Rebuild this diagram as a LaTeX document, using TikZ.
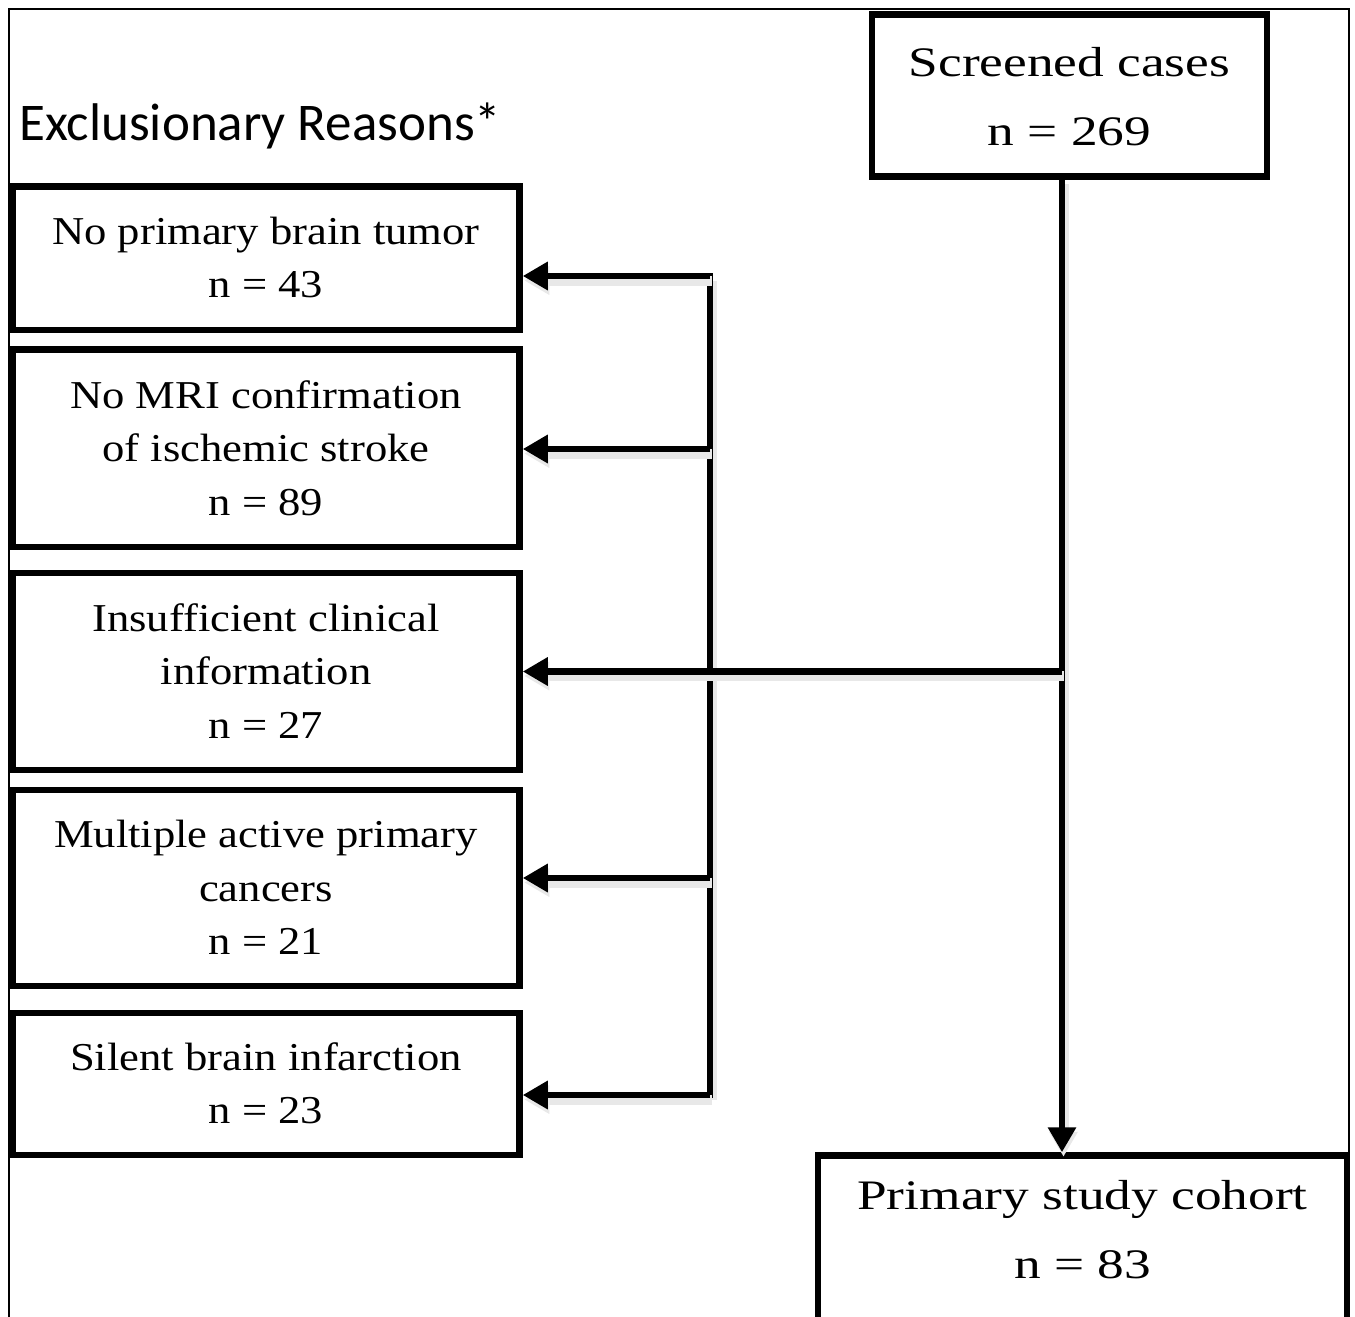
\documentclass[tikz,border=0pt]{standalone}
\usepackage{fontspec}
\usetikzlibrary{arrows.meta}
\newfontfamily\bigserif[FakeStretch=1.27]{Liberation Serif}
\newfontfamily\smallserif[FakeStretch=1.13]{Liberation Serif}
\newfontfamily\sansf{Carlito}
\begin{document}
\begin{tikzpicture}[x=1pt,y=-1pt,
  box/.style={draw, line width=6.5pt, minimum width=507pt, inner sep=0pt},
  arr/.style={line width=6.5pt, -{Triangle[length=25pt,width=27pt]}},
  ln/.style={line width=6.5pt, line cap=rect},
  shad/.style={preaction={draw=black!9, line width=10pt, transform canvas={shift={(1.5pt,-4.5pt)}}}},
  small/.style={font=\smallserif\fontsize{39.5}{53.5}\selectfont, align=center, anchor=base, inner sep=0pt},
  big/.style={font=\bigserif\fontsize{42}{69}\selectfont, align=center, anchor=base, inner sep=0pt}]
\path[use as bounding box] (0,0) rectangle (1355,1317);
\clip (0,0) rectangle (1355,1317);
\fill[white] (0,0) rectangle (1355,1317);
% outer frame
\draw[line width=1.8pt] (9,1330) -- (9,9) -- (1349,9) -- (1349,1330);
% title
\node[font=\sansf\fontsize{53}{60}\selectfont, anchor=base west, inner sep=0pt] (title) at (19,140) {Exclusionary Reasons*};
% connectors (drawn below boxes)
\coordinate (tk) at (1062,0);
\coordinate (a1) at (710,276);
\coordinate (a2) at (710,449);
\coordinate (a4) at (710,878);
\coordinate (a5) at (710,1095);
% boxes
\node[box, minimum height=143.5pt] (b1) at (266,258.25) {};
\node[box, minimum height=197.5pt] (b2) at (266,448.25) {};
\node[box, minimum height=197pt] (b3) at (266,671.5) {};
\node[box, minimum height=196pt] (b4) at (266,888) {};
\node[box, minimum height=142pt] (b5) at (266,1084) {};
\node[box, minimum width=395pt, minimum height=162pt] (scr) at (1069.5,95.5) {};
\node[box, minimum width=529pt, minimum height=170pt] (coh) at (1082.5,1240.5) {};
% texts (base = last line baseline)
\node[small] (t1) at (266,297.75) {No primary brain tumor\\n = 43};
\node[small] (t2) at (266,515) {No MRI confirmation\\of ischemic stroke\\n = 89};
\node[small] (t3) at (266,738) {Insufficient clinical\\information\\n = 27};
\node[small] (t4) at (266,954.5) {Multiple active primary\\cancers\\n = 21};
\node[small] (t5) at (266,1123.75) {Silent brain infarction\\n = 23};
\node[big] (ts) at (1069.5,145) {Screened cases\\n = 269};
\node[big] (tc) at (1082.5,1278) {Primary study cohort\\n = 83};
% connectors
\draw[ln, shad] (a1) -- (a5);
\draw[arr, shad] (scr.south -| tk) -- (coh.north -| tk);
\draw[arr, shad] (b3.east -| tk) -- (b3.east);
\draw[arr, shad] (a1) -- (b1.east |- a1);
\draw[arr, shad] (a2) -- (b2.east |- a2);
\draw[arr, shad] (a4) -- (b4.east |- a4);
\draw[arr, shad] (a5) -- (b5.east |- a5);
\end{tikzpicture}
\end{document}
